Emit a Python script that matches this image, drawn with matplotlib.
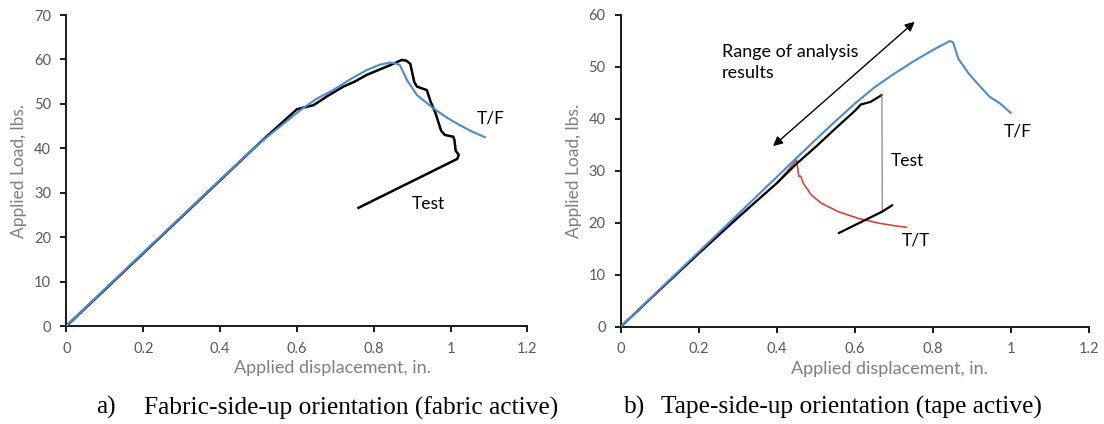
import matplotlib
matplotlib.use("Agg")
import matplotlib.pyplot as plt

# ---------------- data: panel a (fabric-side-up) ----------------
a_test_x = [0, 0.1, 0.2, 0.3, 0.4, 0.5, 0.6, 0.643, 0.68, 0.721, 0.75, 0.781, 0.842, 0.873, 0.885,
            0.895, 0.905, 0.912, 0.938, 0.947, 0.961, 0.975, 0.985, 1.007, 1.01, 1.013,
            1.021, 1.017, 0.76]
a_test_y = [0, 8.2, 16.4, 24.6, 32.8, 41.0, 48.8, 49.7, 51.8, 53.9, 55.0, 56.5, 58.7, 59.9, 59.7,
            59.0, 55.0, 53.9, 53.1, 50.7, 47.8, 44.0, 43.0, 42.6, 41.8, 39.5,
            38.5, 37.6, 26.6]
a_tf_x = [0, 0.1, 0.2, 0.3, 0.4, 0.5, 0.609, 0.65, 0.694, 0.74, 0.781, 0.815, 0.842, 0.858, 0.868,
          0.886, 0.912, 0.955, 0.99, 1.024, 1.055, 1.089]
a_tf_y = [0, 8.3, 16.5, 24.7, 32.9, 41.0, 48.6, 51.1, 53.1, 55.6, 57.6, 58.8, 59.3, 59.1, 58.7,
          55.4, 52.0, 49.0, 46.9, 45.2, 43.8, 42.5]

# ---------------- data: panel b (tape-side-up) ----------------
b_tf_x = [0, 0.1, 0.2, 0.3, 0.4, 0.454, 0.5, 0.55, 0.6, 0.65, 0.7, 0.75, 0.8, 0.843, 0.851,
          0.865, 0.892, 0.918, 0.945, 0.972, 0.999]
b_tf_y = [0, 7.2, 14.4, 21.6, 28.8, 32.7, 36.0, 39.5, 42.9, 46.0, 48.6, 51.0, 53.2, 54.9, 54.7,
          51.5, 48.6, 46.4, 44.2, 42.9, 41.1]
b_test_x = [0, 0.1, 0.2, 0.3, 0.4, 0.45, 0.5, 0.55, 0.6, 0.615, 0.64, 0.668]
b_test_y = [0, 7.1, 14.1, 21.0, 27.6, 31.3, 34.6, 38.1, 41.5, 42.7, 43.2, 44.5]
b_drop_x = [0.669, 0.67]
b_drop_y = [44.5, 22.0]
b_unload_x = [0.559, 0.67, 0.695]
b_unload_y = [18.0, 22.1, 23.3]
b_tt_x = [0, 0.2, 0.4, 0.45, 0.453, 0.456, 0.461, 0.4645, 0.467, 0.488, 0.514, 0.557,
          0.608, 0.66, 0.7, 0.731]
b_tt_y = [0, 14.1, 27.6, 32.0, 30.5, 28.9, 28.9, 28.2, 27.6, 25.3, 23.7, 22.1,
          20.8, 19.9, 19.4, 19.1]

x_ticks = [0, 0.2, 0.4, 0.6, 0.8, 1, 1.2]
x_tick_labels = ["0", "0.2", "0.4", "0.6", "0.8", "1", "1.2"]
a_y_ticks = [0, 10, 20, 30, 40, 50, 60, 70]
b_y_ticks = [0, 10, 20, 30, 40, 50, 60]
x_label = "Applied displacement, in."
y_label = "Applied Load, lbs."
caption_a_tag = "a)"
caption_a = "Fabric-side-up orientation (fabric active)"
caption_b_tag = "b)"
caption_b = "Tape-side-up orientation (tape active)"

# ---------------- style ----------------
BLUE = "#4a8ad6"
RED = "#d9433c"
TICK_C = "#595959"
LABEL_C = "#7f7f7f"
SANS = ["Lato", "DejaVu Sans"]
SERIF = ["Liberation Serif", "DejaVu Serif"]

plt.rcParams["font.family"] = SANS

fig = plt.figure(figsize=(11.04, 4.24), dpi=100)
ax_a = fig.add_axes([0.0602, 0.2311, 0.4176, 0.7335])
ax_b = fig.add_axes([0.5625, 0.2299, 0.4239, 0.7358])


def style(ax, yticks, ymax, label_x):
    ax.set_xlim(0, 1.2)
    ax.set_ylim(0, ymax)
    ax.set_xticks(x_ticks)
    ax.set_xticklabels(x_tick_labels)
    ax.set_yticks(yticks)
    for s in ("top", "right"):
        ax.spines[s].set_visible(False)
    for s in ("left", "bottom"):
        ax.spines[s].set_linewidth(1.4)
        ax.spines[s].set_color("#1a1a1a")
    ax.tick_params(direction="out", length=4, width=1.4, color="#1a1a1a",
                   labelsize=10.5, labelcolor=TICK_C)
    ax.tick_params(axis="x", pad=7.5)
    ax.tick_params(axis="y", pad=7)
    ax.set_xlabel(x_label, fontsize=13, color=LABEL_C)
    ax.xaxis.set_label_coords(label_x, -0.135)
    ax.xaxis.label.set_va("center")
    ax.set_ylabel(y_label, fontsize=12.5, color=LABEL_C, labelpad=5)


style(ax_a, a_y_ticks, 70, 0.577)
style(ax_b, b_y_ticks, 60, 0.573)

# panel a
ax_a.plot(a_test_x, a_test_y, color="black", lw=1.8, zorder=2)
ax_a.plot(a_tf_x, a_tf_y, color=BLUE, lw=1.5, zorder=3)
ax_a.text(1.105, 46.6, "T/F", fontsize=12.5, ha="center", va="center")
ax_a.text(0.942, 27.5, "Test", fontsize=12.5, ha="center", va="center")

# panel b
ax_b.plot(b_tt_x, b_tt_y, color=RED, lw=1.2, zorder=2)
ax_b.plot(b_test_x, b_test_y, color="black", lw=1.6, zorder=3)
ax_b.plot(b_drop_x, b_drop_y, color="#888888", lw=0.9, zorder=3)
ax_b.plot(b_unload_x, b_unload_y, color="black", lw=1.6, zorder=3)
ax_b.plot(b_tf_x, b_tf_y, color=BLUE, lw=1.5, zorder=4)
ax_b.annotate("", xy=(0.753, 58.6), xytext=(0.39, 34.7),
              arrowprops=dict(arrowstyle="<|-|>", color="black", lw=1.0,
                              mutation_scale=14, shrinkA=0, shrinkB=0))
ax_b.text(0.258, 50.8, "Range of analysis\nresults", fontsize=13, ha="left",
          va="center", linespacing=1.35)
ax_b.text(1.017, 37.5, "T/F", fontsize=12.5, ha="center", va="center")
ax_b.text(0.734, 31.8, "Test", fontsize=12.5, ha="center", va="center")
ax_b.text(0.757, 16.6, "T/T", fontsize=12.5, ha="center", va="center")

# captions
cap_y = 0.038
fig.text(96 / 1104, cap_y, caption_a_tag, fontsize=18.3, family=SERIF,
         ha="left", va="center")
fig.text(143.5 / 1104, cap_y, caption_a, fontsize=18.3, family=SERIF,
         ha="left", va="center")
fig.text(624 / 1104, cap_y, caption_b_tag, fontsize=18.3, family=SERIF,
         ha="left", va="center")
fig.text(661 / 1104, cap_y, caption_b, fontsize=18.3, family=SERIF,
         ha="left", va="center")

fig.savefig("out.png", dpi=100)
